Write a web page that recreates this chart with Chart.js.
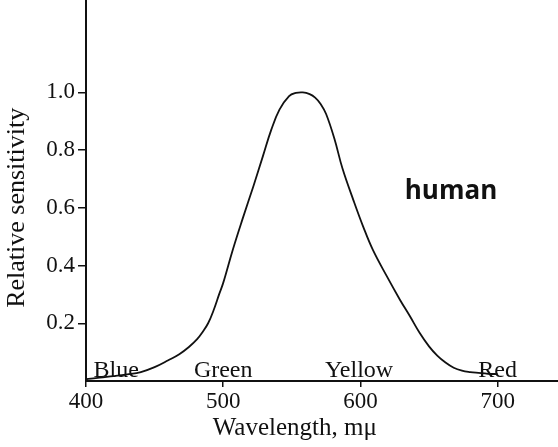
<!DOCTYPE html>
<html>
<head>
<meta charset="utf-8">
<script src="https://cdn.jsdelivr.net/npm/chart.js@4.4.1/dist/chart.umd.min.js"></script>
<style>
  html, body { margin: 0; padding: 0; background: #fff; }
  #wrap { width: 558px; height: 447px; }
</style>
</head>
<body>
<div id="wrap"><canvas id="sensitivity"></canvas></div>
<script>
// curve (wavelength in m\u03bc, relative sensitivity)
var wavelengths = [400, 410, 420, 430, 440, 450, 460, 468, 475, 481, 485, 489, 493, 497,
                   500, 507, 514, 522, 529, 535, 541, 548, 553, 558, 563, 567, 571, 575,
                   581, 587, 595, 602, 609, 619, 629, 636, 643, 650, 656, 662, 668, 674,
                   680, 686, 693, 700];
var sensitivity = [0.006, 0.012, 0.017, 0.023, 0.031, 0.048, 0.072, 0.093, 0.118, 0.145, 0.17, 0.20, 0.245, 0.30,
                   0.34, 0.455, 0.56, 0.675, 0.78, 0.87, 0.94, 0.987, 0.998, 1.0, 0.994, 0.982, 0.96, 0.925,
                   0.84, 0.735, 0.625, 0.535, 0.455, 0.365, 0.28, 0.225, 0.168, 0.12, 0.088, 0.064, 0.046, 0.036,
                   0.031, 0.028, 0.025, 0.024];

var xTicks = [400, 500, 600, 700];
var yTicks = [0.2, 0.4, 0.6, 0.8, 1.0];

// colour names along the axis, at the wavelength they sit over
var colourNames = ['Blue', 'Green', 'Yellow', 'Red'];
var colourAt = [422, 500, 599, 700];

var curveName = 'human';
var curveNameAt = [666, 0.657];

var xTitle = 'Wavelength, m\u03bc';
var yTitle = 'Relative sensitivity';

var ink = '#111';
var serif = '"Liberation Serif", "Times New Roman", serif';

// texte libre: titres, noms des couleurs, "human"
var labelsPlugin = {
  id: 'labels',
  afterDatasetsDraw: function (chart) {
    var ctx = chart.ctx;
    var x = chart.scales.x;
    var y = chart.scales.y;
    ctx.save();
    ctx.fillStyle = ink;

    ctx.font = '24px ' + serif;
    ctx.textAlign = 'center';
    ctx.textBaseline = 'alphabetic';
    colourNames.forEach(function (name, i) {
      ctx.fillText(name, x.getPixelForValue(colourAt[i]), y.getPixelForValue(0) - 4);
    });

    ctx.font = '700 26px "Open Sans", sans-serif';
    ctx.textBaseline = 'middle';
    ctx.fillText(curveName, x.getPixelForValue(curveNameAt[0]), y.getPixelForValue(curveNameAt[1]));

    // titre axe x, centré sous 400-700
    ctx.font = '25px ' + serif;
    ctx.textBaseline = 'middle';
    var xMid = (x.getPixelForValue(xTicks[0]) + x.getPixelForValue(xTicks[xTicks.length - 1])) / 2;
    ctx.fillText(xTitle, xMid + 3, chart.height - 19);

    // titre axe y, centré sur 0.2-1.0
    var yMid = (y.getPixelForValue(yTicks[0]) + y.getPixelForValue(yTicks[yTicks.length - 1])) / 2;
    ctx.font = '26px ' + serif;
    ctx.translate(17, yMid);
    ctx.rotate(-Math.PI / 2);
    ctx.fillText(yTitle, 0, 0);
    ctx.restore();
  }
};

var points = wavelengths.map(function (w, i) {
  return { x: w, y: sensitivity[i] };
});

var chart = new Chart(document.getElementById('sensitivity'), {
  type: 'line',
  data: {
    datasets: [{
      label: curveName,
      data: points,
      borderColor: ink,
      borderWidth: 1.8,
      pointRadius: 0,
      fill: false,
      tension: 0.4
    }]
  },
  options: {
    responsive: true,
    maintainAspectRatio: false,
    animation: false,
    devicePixelRatio: 1,
    layout: { padding: 0 },
    plugins: {
      legend: { display: false },
      tooltip: { enabled: false }
    },
    scales: {
      x: {
        type: 'linear',
        min: 400,
        max: 744,
        afterBuildTicks: function (scale) {
          scale.ticks = xTicks.map(function (v) { return { value: v }; });
        },
        afterFit: function (scale) {
          scale.height = 66;
          scale.paddingLeft = 0;
          scale.paddingRight = 0;
        },
        grid: { drawOnChartArea: false, drawTicks: true, tickLength: 6, tickColor: ink, lineWidth: 1.5 },
        border: { display: true, color: ink, width: 2 },
        ticks: {
          font: { family: serif, size: 23 },
          color: ink,
          padding: 1,
          maxRotation: 0,
          autoSkip: false
        }
      },
      y: {
        min: 0,
        max: 1.32,
        afterBuildTicks: function (scale) {
          scale.ticks = yTicks.map(function (v) { return { value: v }; });
        },
        afterFit: function (scale) {
          scale.width = 86;
          scale.paddingTop = 0;
          scale.paddingBottom = 0;
        },
        grid: { drawOnChartArea: false, drawTicks: true, tickLength: 8, tickColor: ink, lineWidth: 1.5 },
        border: { display: true, color: ink, width: 2 },
        ticks: {
          font: { family: serif, size: 23 },
          color: ink,
          padding: 3,
          autoSkip: false,
          callback: function (v) { return v.toFixed(1); }
        }
      }
    }
  },
  plugins: [labelsPlugin]
});
</script>
</body>
</html>
